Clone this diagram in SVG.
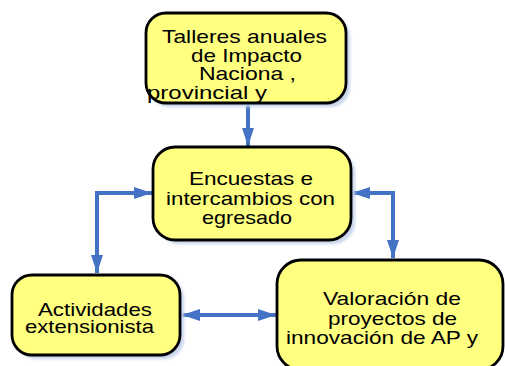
<svg xmlns="http://www.w3.org/2000/svg" width="505" height="366" viewBox="0 0 505 366">
<defs>
<filter id="sh" x="-10%" y="-10%" width="130%" height="130%">
<feGaussianBlur stdDeviation="1.5"/>
</filter>
<marker id="ah" viewBox="0 0 18 12" refX="18" refY="6" markerWidth="18" markerHeight="12" markerUnits="userSpaceOnUse" orient="auto-start-reverse">
<path d="M0,0 L18,6 L0,12 Z" fill="#4472C4"/>
</marker>
</defs>
<style>
.box{fill:#FFFF80;stroke:#000;stroke-width:2.8}
.shadow{fill:#C6D4EC;filter:url(#sh)}
.t{font-family:"Liberation Sans",Arial,sans-serif;font-size:19px;fill:#000}
.c{fill:none;stroke:#4472C4;stroke-width:4}
</style>
<g id="connectors">
<path class="c" d="M248,104 V146" marker-end="url(#ah)"/>
<path class="c" d="M97,273 V193 H152" marker-start="url(#ah)" marker-end="url(#ah)"/>
<path class="c" d="M352,193 H393 V258" marker-start="url(#ah)" marker-end="url(#ah)"/>
<path class="c" d="M182,315 H276" marker-start="url(#ah)" marker-end="url(#ah)"/>
</g>
<g id="n1">
<rect class="shadow" x="150" y="17" width="200" height="90" rx="20"/>
<rect class="box" x="146" y="13" width="200" height="90" rx="20"/>
<text class="t" x="162" y="43" textLength="165" lengthAdjust="spacingAndGlyphs">Talleres anuales</text>
<text class="t" x="191" y="61.5" textLength="111" lengthAdjust="spacingAndGlyphs">de Impacto</text>
<text class="t" x="199" y="80" textLength="97" lengthAdjust="spacingAndGlyphs">Naciona ,</text>
<text class="t" x="147" y="98.5" textLength="120" lengthAdjust="spacingAndGlyphs">provincial y</text>
</g>
<g id="n2">
<rect class="shadow" x="157" y="151" width="198" height="93" rx="22"/>
<rect class="box" x="153" y="147" width="198" height="93" rx="22"/>
<text class="t" x="189" y="185" textLength="124" lengthAdjust="spacingAndGlyphs">Encuestas e</text>
<text class="t" x="166" y="205" textLength="169" lengthAdjust="spacingAndGlyphs">intercambios con</text>
<text class="t" x="202" y="224" textLength="90" lengthAdjust="spacingAndGlyphs">egresado</text>
</g>
<g id="n3">
<rect class="shadow" x="16" y="279" width="168" height="80" rx="20"/>
<rect class="box" x="12" y="275" width="168" height="80" rx="20"/>
<text class="t" x="38" y="316" textLength="114" lengthAdjust="spacingAndGlyphs">Actividades</text>
<text class="t" x="25" y="333" textLength="129" lengthAdjust="spacingAndGlyphs">extensionista</text>
</g>
<g id="n4">
<rect class="box" x="277" y="260" width="226" height="110" rx="24"/>
<text class="t" x="323" y="305" textLength="138" lengthAdjust="spacingAndGlyphs">Valoración de</text>
<text class="t" x="328" y="325" textLength="129" lengthAdjust="spacingAndGlyphs">proyectos de</text>
<text class="t" x="286" y="344" textLength="192" lengthAdjust="spacingAndGlyphs">innovación de AP y</text>
</g>
</svg>
